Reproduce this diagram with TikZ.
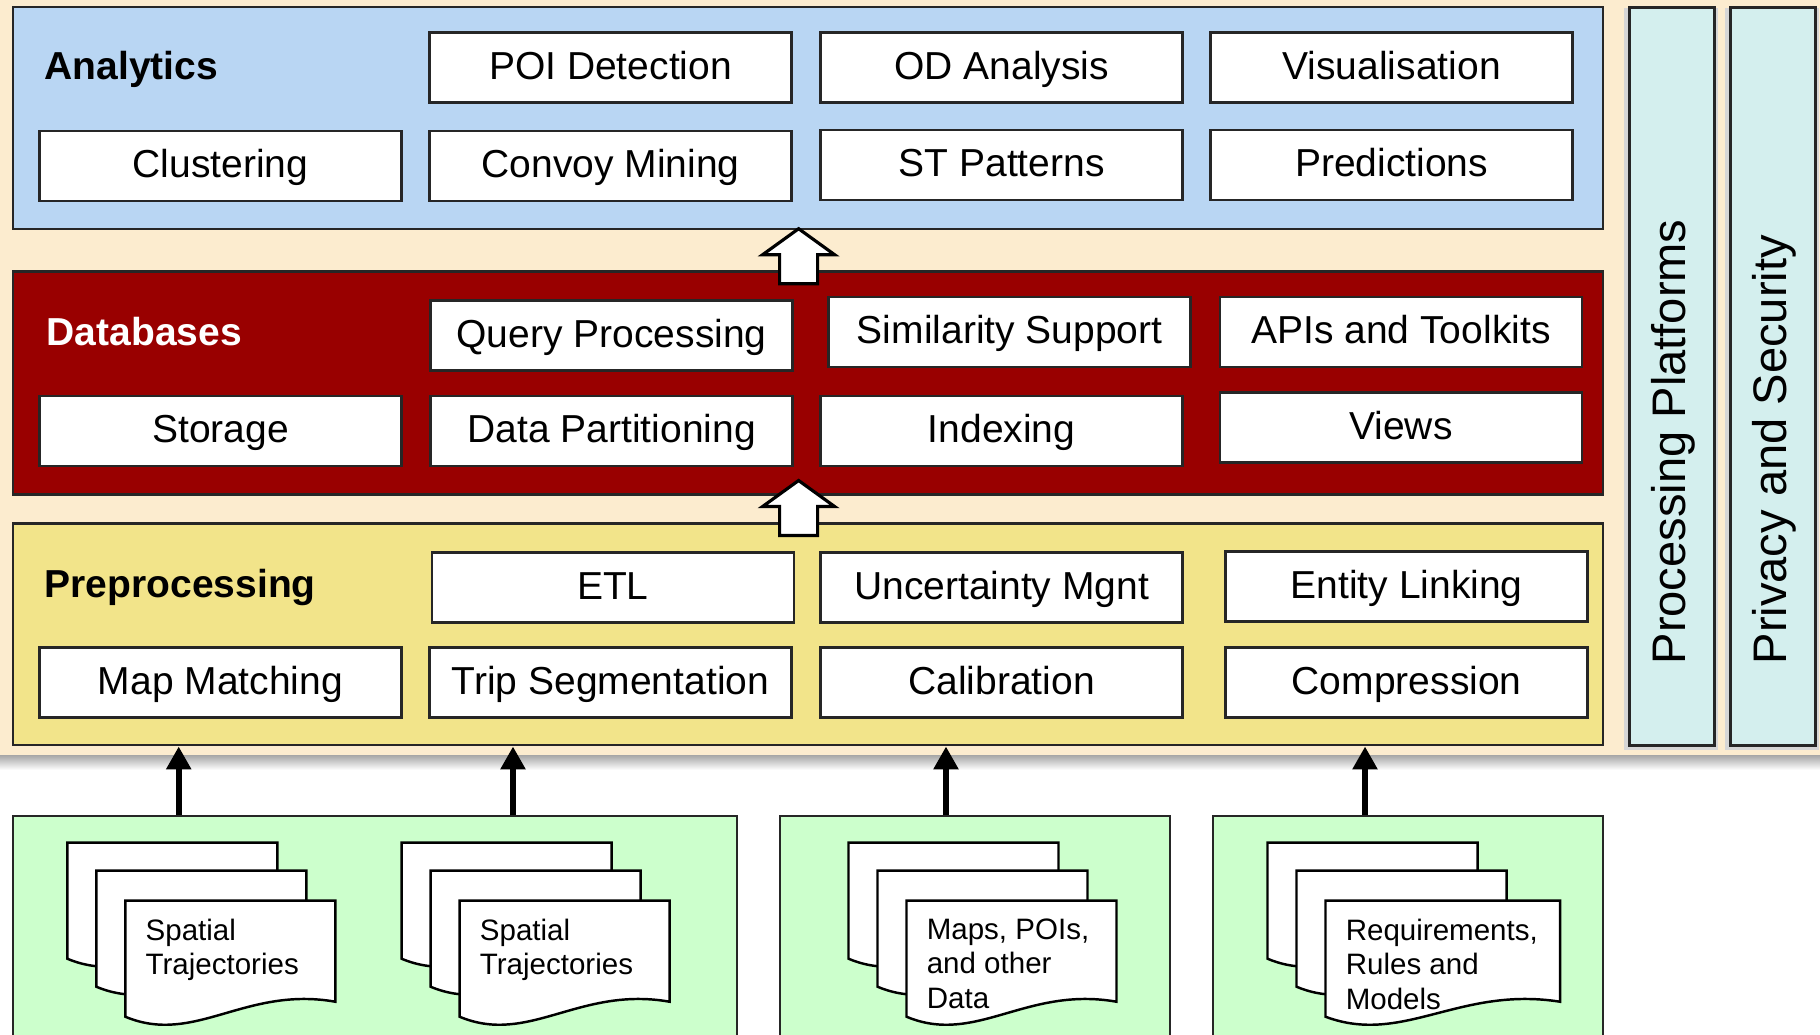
\documentclass[tikz,border=0pt]{standalone}
\usepackage{fontspec}
\setmainfont{Liberation Sans}
\definecolor{pagebeige}{RGB}{252, 236, 207}
\definecolor{analyticsblue}{RGB}{185, 214, 243}
\definecolor{dbred}{RGB}{153, 0, 0}
\definecolor{prepyellow}{RGB}{242, 228, 138}
\definecolor{barcyan}{RGB}{212, 239, 238}
\definecolor{srcgreen}{RGB}{204, 255, 204}
\usetikzlibrary{arrows.meta, positioning}
\newcommand{\boxfont}{\fontsize{11.1}{13}\selectfont}
\newcommand{\docfont}{\fontsize{8.4}{9.8}\selectfont}
\newcommand{\barfont}{\fontsize{13.4}{16}\selectfont}
% one sheet of a document stack: x, y, width
\newcommand{\docsheet}[3]{%
  \begin{scope}[shift={(#1,#2)}]
    \draw[sheet] (0,0) -- (#3,0) -- (#3,101) .. controls ({0.57*#3},85) and ({0.33*#3},145) .. (0,116) -- cycle;
  \end{scope}}
% three sheets: x, y, width of front sheet
\newcommand{\docstack}[3]{%
  \docsheet{#1}{#2}{210}
  \docsheet{#1+29}{#2+28}{210}
  \docsheet{#1+58}{#2+58}{#3}}
% white block arrow between layers: x and y of the tip
\newcommand{\liftarrow}[2]{%
  \draw[lift] (#1,#2) -- ++(36,26) -- ++(-17,0) -- ++(0,29) -- ++(-38,0) -- ++(0,-29) -- ++(-17,0) -- cycle;}

\begin{document}
\begin{tikzpicture}[x=0.1mm, y=-0.1mm,
  layer/.style={draw=black!85, line width=0.7pt, inner sep=0pt, anchor=north west},
  comp/.style={draw=black!85, fill=white, line width=0.7pt, minimum width=36.2mm, minimum height=7mm, inner sep=0pt, text height=0.8em, text depth=0.13em, font=\boxfont},
  title/.style={anchor=west, inner sep=0pt, text height=0.75em, text depth=0.2em, font=\boxfont\bfseries},
  sidebar/.style={draw=black!85, fill=barcyan, line width=0.9pt, inner sep=0pt, anchor=north west, minimum width=8.5mm, minimum height=73.8mm},
  sidetext/.style={rotate=90, anchor=west, inner sep=0pt, font=\barfont},
  sheet/.style={draw=black, fill=white, line width=0.7pt},
  doctext/.style={anchor=north west, inner sep=0pt, align=left, font=\docfont},
  lift/.style={draw=black, fill=white, line width=0.9pt, line join=miter},
  feed/.style={line width=1.7pt, -{Triangle[length=2.3mm, width=2.4mm]}}]

  \clip (0,0) rectangle (1820,1034);

  % Background
  \fill[pagebeige] (0,0) rectangle (1820,755);
  \shade[top color=black!35, bottom color=white] (0,755) rectangle (1820,770);

  % Analytics
  \node[layer, fill=analyticsblue, minimum width=159mm, minimum height=22.15mm] (analytics) at (12,6) {};
  \node[title] (analyticslbl) at (44,69.5) {Analytics};
  \node[comp] (poi) at (610.5,67.5) {POI Detection};
  \node[comp] (od) at (1001.6,67.5) {OD Analysis};
  \node[comp] (vis) at (1391.6,67.5) {Visualisation};
  \node[comp] (clust) at (220.5,166) {Clustering};
  \node[comp] (convoy) at (610.5,166) {Convoy Mining};
  \node[comp] (stpat) at (1001.6,165) {ST Patterns};
  \node[comp] (pred) at (1391.6,165) {Predictions};

  % Databases
  \node[layer, fill=dbred, minimum width=159mm, minimum height=22.3mm] (databases) at (12,270.4) {};
  \node[title, text=white] (databaseslbl) at (46,335.5) {Databases};
  \node[comp] (query) at (611.6,335.6) {Query Processing};
  \node[comp] (simil) at (1009.7,332) {Similarity Support};
  \node[comp] (apis) at (1400.9,332) {APIs and Toolkits};
  \node[comp] (storage) at (220.5,431) {Storage};
  \node[comp] (partition) at (611.6,431) {Data Partitioning};
  \node[comp] (index) at (1001.6,431) {Indexing};
  \node[comp] (views) at (1400.9,427.3) {Views};

  % Preprocessing
  \node[layer, fill=prepyellow, minimum width=159mm, minimum height=22.17mm] (prep) at (12,522.3) {};
  \node[title] (preplbl) at (44,587.5) {Preprocessing};
  \node[comp] (etl) at (612.8,587.5) {ETL};
  \node[comp] (uncert) at (1001.6,587.5) {Uncertainty Mgnt};
  \node[comp] (entity) at (1406.7,586.3) {Entity Linking};
  \node[comp] (mapmatch) at (220.5,682.7) {Map Matching};
  \node[comp] (tripseg) at (610.5,682.7) {Trip Segmentation};
  \node[comp] (calib) at (1001.6,682.7) {Calibration};
  \node[comp] (compress) at (1406.7,682.7) {Compression};

  % Arrows between layers
  \liftarrow{798.6}{228.7}
  \liftarrow{798.6}{480.5}

  % Side bars
  \fill[black!16] (1624,8) rectangle (1718,750);
  \fill[black!16] (1725,8) rectangle (1819,750);
  \node[sidebar] (platforms) at (1628,6) {};
  \node[sidebar] (privacy) at (1729,6) {};
  \node[sidetext] (platformstxt) at (1673,665) {Processing Platforms};
  \node[sidetext] (privacytxt) at (1774.6,665) {Privacy and Security};

  % Data sources
  \node[layer, fill=srcgreen, minimum width=72.43mm, minimum height=25mm] (src1) at (11.6,815) {};
  \node[layer, fill=srcgreen, minimum width=39mm, minimum height=25mm] (src2) at (778.8,815) {};
  \node[layer, fill=srcgreen, minimum width=39mm, minimum height=25mm] (src3) at (1211.8,815) {};

  \docstack{67.3}{842.7}{210}
  \docstack{401.6}{842.7}{210}
  \docstack{848.5}{842.7}{210}
  \docstack{1267.5}{842.7}{234.5}
  \node[doctext] (traj1) at (145,918.2) {Spatial\\Trajectories};
  \node[doctext] (traj2) at (479.2,918.2) {Spatial\\Trajectories};
  \node[doctext] (maps) at (926.1,918.2) {Maps, POIs,\\and other\\Data};
  \node[doctext] (rules) at (1345.1,918.2) {Requirements,\\Rules and\\Models};

  % Feeds into preprocessing
  \coordinate (f1) at (178.7,815);
  \coordinate (f2) at (513,815);
  \coordinate (f3) at (946,815);
  \coordinate (f4) at (1365,815);
  \draw[feed] (f1) -- (f1 |- prep.south);
  \draw[feed] (f2) -- (f2 |- prep.south);
  \draw[feed] (f3) -- (f3 |- prep.south);
  \draw[feed] (f4) -- (f4 |- prep.south);
\end{tikzpicture}
\end{document}
